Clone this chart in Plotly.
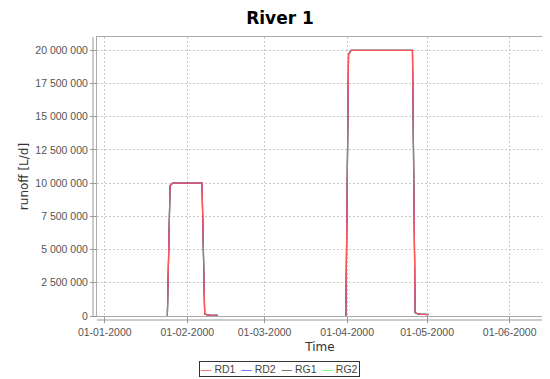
import plotly.graph_objects as go

# ---- data (noon timestamps, None = gap between pulses) ----
dates = [
    "2000-01-24 12:00", "2000-01-25 12:00", "2000-01-26 12:00", "2000-02-06 12:00",
    "2000-02-07 12:00", "2000-02-08 12:00", "2000-02-09 12:00", "2000-02-10 12:00",
    "2000-02-11 12:00", "2000-02-12 12:00",
    "2000-02-13 12:00",
    "2000-03-31 12:00", "2000-04-01 12:00", "2000-04-02 12:00", "2000-04-25 12:00",
    "2000-04-26 12:00", "2000-04-27 12:00", "2000-04-28 12:00", "2000-04-29 12:00",
    "2000-04-30 12:00", "2000-05-01 12:00",
]
RD1 = [0, 9.8e6, 1.0e7, 1.0e7, 1.5e5, 8.0e4, 7.0e4, 6.5e4, 6.0e4, 5.5e4, None,
       0, 1.97e7, 2.0e7, 2.0e7, 2.5e5, 1.6e5, 1.4e5, 1.3e5, 1.2e5, 1.1e5]
RD2 = list(RD1)
RG1 = list(RD1)
RG2 = list(RD1)

series_names = ["RD1", "RD2", "RG1", "RG2"]
series_values = {"RD1": RD1, "RD2": RD2, "RG1": RG1, "RG2": RG2}
series_colors = {"RD1": "#FF5555", "RD2": "#5555FF", "RG1": "#555555", "RG2": "#55FF55"}

x_ticks = ["2000-01-01", "2000-02-01", "2000-03-01", "2000-04-01", "2000-05-01", "2000-06-01"]
y_ticks = [0, 2.5e6, 5e6, 7.5e6, 1e7, 1.25e7, 1.5e7, 1.75e7, 2e7]

FONT = "Liberation Sans"
TFONT = "DejaVu Sans"

fig = go.Figure()
# draw last series first so RD1 ends on top
for name in reversed(series_names):
    fig.add_trace(go.Scatter(x=dates, y=series_values[name], name=name, mode="lines",
                             line=dict(color=series_colors[name], width=1.2),
                             connectgaps=False, showlegend=False))

# page body has an 8px margin, so the figure is laid out in shifted coords
OFF = 8
W, H = 550 - OFF, 379 - OFF
ml, mr, mt, mb = 97 - OFF, 7, 37 - OFF, 63
pw = W - ml - mr
ph = H - mt - mb

# compact JFreeChart-like legend as text
legend_text = "  ".join(
    f'<span style="color:{series_colors[n]}">—</span> {n}' for n in series_names
)

fig.update_layout(
    width=W, height=H,
    margin=dict(l=ml, r=mr, t=mt, b=mb, autoexpand=False),
    paper_bgcolor="white", plot_bgcolor="white",
    separators=". ",
    title=dict(text="<b>River 1</b>", x=(280 - OFF) / W, xanchor="center",
               y=1 - (18 - OFF) / H, yanchor="middle", yref="container",
               font=dict(family=TFONT, size=17, color="black")),
    font=dict(family=FONT, color="#444444"),
    showlegend=False,
    xaxis=dict(
        type="date", automargin=False,
        range=["1999-12-29 02:00", "2000-06-13 12:00"],
        tickvals=x_ticks, tickformat="%d-%m-%Y",
        tickfont=dict(family=FONT, size=10.5, color="#555555"),
        ticks="outside", ticklen=6, tickcolor="#999999",
        showgrid=True, gridcolor="#C8C8C8", griddash="2px,2px", gridwidth=1,
        showline=True, linecolor="#AAAAAA", mirror=True, linewidth=1,
        zeroline=False,
        title=dict(text="Time", standoff=6,
                   font=dict(family=TFONT, size=12, color="#333333")),
    ),
    yaxis=dict(
        automargin=False,
        range=[0, 2.1e7],
        tickvals=y_ticks, tickformat=",d",
        tickfont=dict(family=FONT, size=10.5, color="#555555"),
        ticks="outside", ticklen=6, tickcolor="#999999",
        showgrid=True, gridcolor="#C8C8C8", griddash="2px,2px", gridwidth=1,
        showline=True, linecolor="#AAAAAA", mirror=True, linewidth=1,
        zeroline=False,
        title=dict(text="runoff [L/d]", standoff=4,
                   font=dict(family=TFONT, size=12, color="#333333")),
    ),
)

fig.add_annotation(
    text=legend_text, xref="paper", yref="paper",
    x=(279 - 97) / pw, xanchor="center",
    y=-(368.5 - 316) / ph, yanchor="middle",
    showarrow=False, font=dict(family=FONT, size=10.5, color="#444444"),
    bordercolor="#333333", borderwidth=1, borderpad=1, bgcolor="white",
)

# offset axis lines (JFreeChart style)
off = 4
fig.add_shape(type="line", xref="paper", yref="paper",
              x0=-off / pw, x1=-off / pw, y0=0, y1=1,
              line=dict(color="#999999", width=1))
fig.add_shape(type="line", xref="paper", yref="paper",
              x0=0, x1=1, y0=-off / ph, y1=-off / ph,
              line=dict(color="#999999", width=1))

fig.write_html("out.html")
